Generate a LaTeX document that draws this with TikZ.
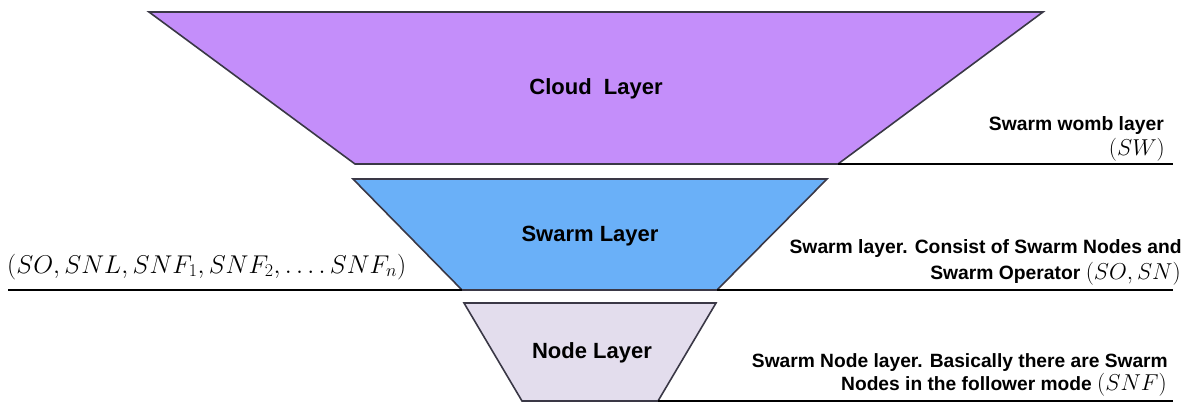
\RequirePackage{fix-cm}
\documentclass[tikz,border=0pt]{standalone}
\usepackage[no-math]{fontspec}
\setmainfont{Liberation Sans}
\definecolor{cloudfill}{RGB}{196,142,250}
\definecolor{swarmfill}{RGB}{106,176,248}
\definecolor{nodefill}{RGB}{227,221,237}
\definecolor{edgegray}{RGB}{58,56,70}
\begin{document}
\begin{tikzpicture}[x=1pt,y=-1pt,
  layer/.style={draw=edgegray, line width=1.6pt, line join=miter},
  rule/.style={draw=black, line width=2pt},
  lbl/.style={font=\bfseries\fontsize{22}{26}\selectfont, inner sep=0pt},
  note/.style={font=\bfseries\fontsize{19.3}{23}\selectfont, inner sep=0pt, anchor=base east},
  mth/.style={font=\fontsize{23}{28}\selectfont, inner sep=0pt, anchor=base east}]
\useasboundingbox (0,0) rectangle (1190,405);
% corners
\coordinate (c1) at (149,12);  \coordinate (c2) at (1043,12);
\coordinate (c3) at (838,164); \coordinate (c4) at (355,164);
\coordinate (s1) at (353,179); \coordinate (s2) at (827,179);
\coordinate (s3) at (717,290); \coordinate (s4) at (462,290);
\coordinate (n1) at (464,303); \coordinate (n2) at (716,303);
\coordinate (n3) at (658,401); \coordinate (n4) at (522,401);
\coordinate (e1) at (1173,164); \coordinate (e2) at (1173,290);
\coordinate (e3) at (1173,401); \coordinate (w2) at (8,290);
% layers
\filldraw[layer, fill=cloudfill] (c1) -- (c2) -- (c3) -- (c4) -- cycle;
\filldraw[layer, fill=swarmfill] (s1) -- (s2) -- (s3) -- (s4) -- cycle;
\filldraw[layer, fill=nodefill] (n1) -- (n2) -- (n3) -- (n4) -- cycle;
% rules
\draw[rule] (c3) -- (e1);
\draw[rule] (w2) -- (s4);
\draw[rule] (s3) -- (e2);
\draw[rule] (n3) -- (e3);
% labels
\node[lbl] (tc) at (596,89) {Cloud\ \ Layer};
\node[lbl] (ts) at (590,236) {Swarm Layer};
\node[lbl] (tn) at (592,353) {Node Layer};
% notes
\node[note] (sw1) at (1164,130) {Swarm womb layer};
\node[mth] (sw2) at (1165,155) {$(SW)$};
\node[note] (sl1) at (1182,253) {Swarm layer. Consist of Swarm Nodes and};
\node[note] (sl2) at (1181,279) {Swarm Operator \fontsize{23}{28}\selectfont$(SO,SN)$};
\node[note, font=\bfseries\fontsize{19.2}{23}\selectfont] (nl1) at (1168,367) {Swarm Node layer. Basically there are Swarm};
\node[note, font=\bfseries\fontsize{19.2}{23}\selectfont] (nl2) at (1167,390) {Nodes in the follower mode \fontsize{23}{28}\selectfont$(SNF)$};
\node[font=\fontsize{25.7}{30}\selectfont, inner sep=0pt, anchor=base west] (left) at (7,273)
  {$(SO,SNL,SNF_1,SNF_2,\ldotp\ldotp\ldotp\ldotp SNF_n)$};
\end{tikzpicture}
\end{document}
